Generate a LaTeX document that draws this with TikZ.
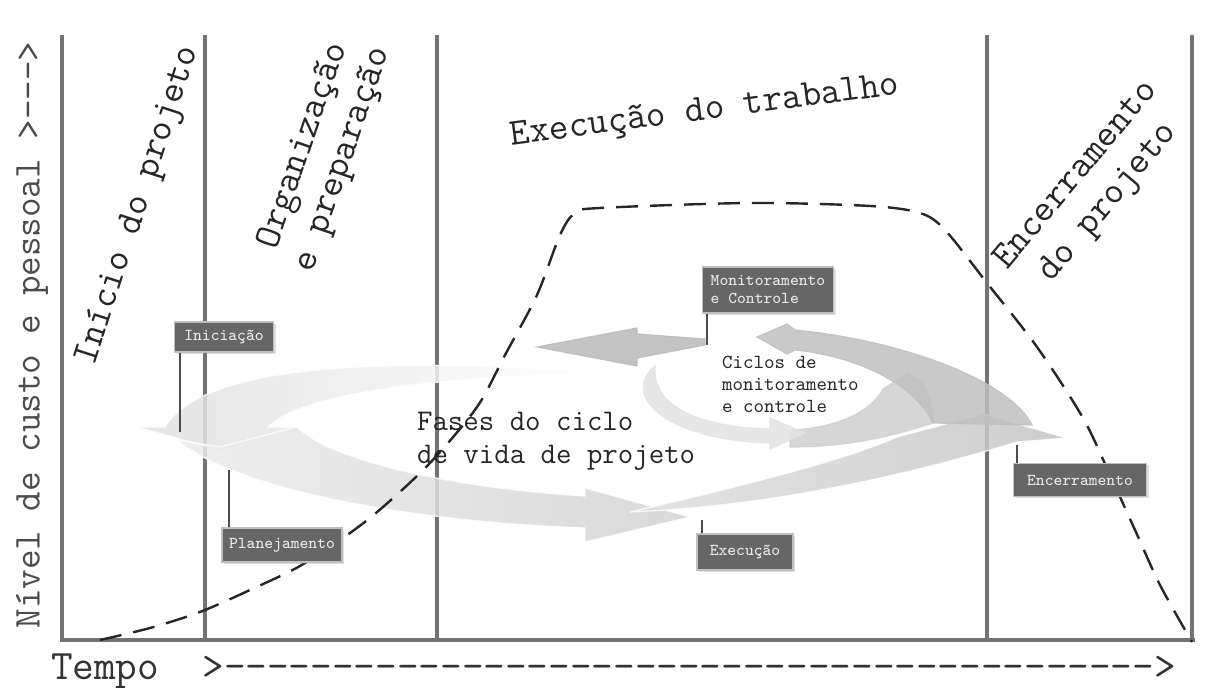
\documentclass[tikz,border=0pt]{standalone}
\usepackage{fontspec}
\setmonofont{Latin Modern Mono}
\usetikzlibrary{positioning,shadows}

\tikzset{
  frame/.style={line width=2pt, draw=black!55},
  band/.style={draw=white, line width=0.6pt, opacity=0.85},
  phasebox/.style={draw=black!25, line width=0.6pt, fill=black!60, text=black!8,
    font=\ttfamily\fontsize{8.3}{9}\selectfont, inner sep=2pt,
    drop shadow={opacity=0.25, shadow xshift=1pt, shadow yshift=-1pt}},
  leader/.style={line width=1pt, draw=black!70},
  heading/.style={font=\ttfamily\fontsize{19}{21}\selectfont, align=center, text=black!85},
  costcurve/.style={line width=1.2pt, draw=black!85, dash pattern=on 11pt off 6pt}
}

\begin{document}
\begin{tikzpicture}[x=0.5pt, y=-0.5pt]
\useasboundingbox (0,0) rectangle (1210,688);

% Phase frame
\draw[frame] (62,35) -- (62,640) -- (1195,640);
\foreach \x in {205,437,987,1192}
  \draw[frame] (\x,35) -- (\x,640);

% Life cycle arrows
\shade[band, left color=gray!25, right color=white]
  (600,372) .. controls (350,355) and (200,370) .. (165,427) -- (137,427) -- (220,450)
  -- (297,427) -- (268,427) .. controls (300,395) and (420,378) .. (600,372) -- cycle;
\shade[band, left color=gray!15, right color=gray!35]
  (177,440) -- (220,447) -- (297,427) .. controls (330,460) and (450,488) .. (585,496)
  -- (585,488) -- (690,517) -- (585,542) -- (585,528) .. controls (420,522) and (240,492) .. (177,440) -- cycle;
\shade[band, left color=gray!25, right color=gray!45]
  (630,512) .. controls (760,482) and (850,458) .. (897,437) -- (983,414) -- (1067,438)
  -- (1017,442) .. controls (950,462) and (800,505) .. (630,512) -- cycle;

% Monitoring cycle
\fill[band, gray!38]
  (790,430) .. controls (840,428) and (872,410) .. (883,389) -- (907,374) -- (923,382)
  .. controls (930,400) and (935,415) .. (933,423) .. controls (880,440) and (840,447) .. (790,447) -- cycle;
\fill[band, gray!22]
  (655,366) .. controls (620,395) and (665,440) .. (770,443) -- (770,449) -- (805,433)
  -- (770,418) -- (770,429) .. controls (695,427) and (652,405) .. (655,366) -- cycle;
\fill[band, gray!50]
  (757,337) -- (787,324) -- (795,330) .. controls (900,340) and (1010,380) .. (1032,425)
  -- (933,423) .. controls (915,385) and (860,357) .. (795,350) -- (787,354) -- cycle;
\fill[band, gray!55]
  (537,347) -- (637,328) -- (637,334) -- (705,339) -- (705,345) -- (637,358) -- (637,366) -- cycle;

% Cost and staffing curve
\draw[costcurve] plot[smooth, tension=0.5] coordinates {(100,640) (150,628) (200,612) (250,590)
  (300,566) (350,533) (383,507) (430,463) (477,407) (505,355) (537,295) (560,235) (575,213)
  (600,208) (750,203) (870,206) (920,213) (945,230) (987,283) (1037,347) (1083,418) (1110,475)
  (1135,530) (1160,585) (1192,642)};

% Process groups
\node[phasebox, minimum width=49.5pt, minimum height=15pt] (ini) at (224,337) {Iniciação};
\node[phasebox, minimum width=60pt, minimum height=17pt] (plan) at (282,545) {Planejamento};
\node[phasebox, minimum width=65.5pt, minimum height=23pt, align=left] (mon) at (768,290) {Monitoramento\\e Controle};
\node[phasebox, minimum width=48pt, minimum height=18pt] (exe) at (745,552) {Execução};
\node[phasebox, minimum width=66.5pt, minimum height=16.5pt] (enc) at (1080,480) {Encerramento};

\coordinate (ini-foot) at (180,432);
\coordinate (plan-head) at (229,470);
\coordinate (mon-foot) at (707,345);
\coordinate (exe-head) at (702,520);
\coordinate (enc-head) at (1017,445);
\draw[leader] (ini.south -| ini-foot) -- (ini-foot);
\draw[leader] (plan.north -| plan-head) -- (plan-head);
\draw[leader] (mon.south -| mon-foot) -- (mon-foot);
\draw[leader] (exe.north -| exe-head) -- (exe-head);
\draw[leader] (enc.north -| enc-head) -- (enc-head);

% Phase titles
\node[heading, rotate=72] (t-inicio) at (139,206) {Início do projeto};
\node[heading, rotate=71] (t-org) at (324,153) {Organização\\e preparação};
\node[heading, rotate=7.5] (t-exec) at (705,112) {Execução do trabalho};
\node[heading, rotate=50] (t-enc) at (1093,189) {Encerramento\\do projeto};

\node[font=\ttfamily\fontsize{15}{16.5}\selectfont, align=left, anchor=west, text=black!85] (t-fases) at (410,441) {Fases do ciclo\\de vida de projeto};
\node[font=\ttfamily\fontsize{10}{11}\selectfont, align=left, anchor=west, text=black!85] (t-ciclos) at (715,384) {Ciclos de\\monitoramento\\e controle};

% Axes
\node[font=\ttfamily\fontsize{19}{20}\selectfont, rotate=90, text=black!70] (y-label) at (32,335) {Nível de custo e pessoal >--->};
\node[font=\ttfamily\fontsize{21}{22}\selectfont, anchor=west, text=black!80] (x-label) at (44,671) {Tempo\ \ >------------------------------------------->};

\end{tikzpicture}
\end{document}
